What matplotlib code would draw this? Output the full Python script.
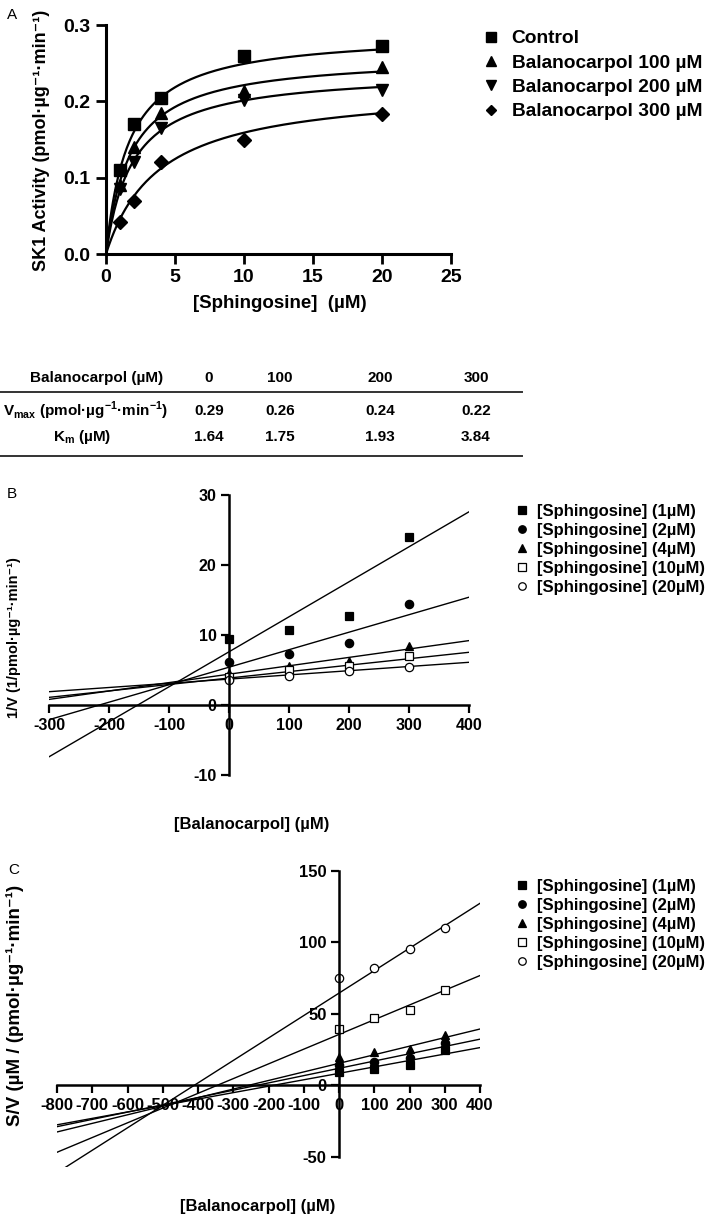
import numpy as np
import matplotlib
matplotlib.use('Agg')
import matplotlib.pyplot as plt

W, H = 709, 1217
plt.rcParams['font.family'] = ['Liberation Sans', 'DejaVu Sans']
plt.rcParams['font.weight'] = 'bold'
plt.rcParams['axes.linewidth'] = 1.6
plt.rcParams['axes.unicode_minus'] = False

# ---- panel A: SK1 activity vs sphingosine
sph = [1, 2, 4, 10, 20]
act_control = [0.110, 0.170, 0.205, 0.260, 0.272]
act_100 = [0.090, 0.140, 0.185, 0.213, 0.245]
act_200 = [0.085, 0.120, 0.165, 0.202, 0.215]
act_300 = [0.042, 0.070, 0.120, 0.150, 0.183]
a_names = ['Control', 'Balanocarpol 100 \u00b5M', 'Balanocarpol 200 \u00b5M', 'Balanocarpol 300 \u00b5M']
a_markers = ['s', '^', 'v', 'D']
a_msize = [9, 8.5, 8.5, 7]

# ---- table (Michaelis-Menten fit)
bal_conc = ['0', '100', '200', '300']
vmax = [0.29, 0.26, 0.24, 0.22]
km = [1.64, 1.75, 1.93, 3.84]

# ---- panel B: Dixon plot
bal = [0, 100, 200, 300]
invv_1 = [9.4, 10.7, 12.7, 24.0]
invv_2 = [6.1, 7.3, 8.8, 14.5]
invv_4 = [4.6, 5.6, 6.3, 8.4]
invv_10 = [4.0, 5.0, 5.6, 7.0]
invv_20 = [3.6, 4.2, 4.9, 5.5]
b_int = [7.6, 5.4, 4.4, 3.85, 3.7]
b_slope = [0.050, 0.025, 0.012, 0.0092, 0.006]

# ---- panel C: Cornish-Bowden plot
sv_1 = [9.5, 11.5, 14.0, 25.0]
sv_2 = [14.5, 16.5, 19.5, 30.0]
sv_4 = [20.0, 23.5, 25.8, 35.0]
sv_10 = [39.5, 47.5, 52.5, 67.0]
sv_20 = [75.0, 82.0, 95.5, 110.0]
c_int = [8.5, 12.0, 15.5, 35.7, 64.6]
c_slope = [0.045, 0.051, 0.060, 0.103, 0.157]

s_names = ['[Sphingosine] (1\u00b5M)', '[Sphingosine] (2\u00b5M)', '[Sphingosine] (4\u00b5M)',
           '[Sphingosine] (10\u00b5M)', '[Sphingosine] (20\u00b5M)']
s_markers = ['s', 'o', '^', 's', 'o']
s_fill = ['k', 'k', 'k', 'w', 'w']

UNIT = 'pmol\u00b7\u00b5g\u207b\u00b9\u00b7min\u207b\u00b9'


def rect(l, t, r, b):
    return [l / W, 1 - b / H, (r - l) / W, (b - t) / H]


def fx(x):
    return x / W


def fy(y):
    return 1 - y / H


fig = plt.figure(figsize=(W / 100, H / 100), dpi=100)

# ================= A
ax = fig.add_axes(rect(106, 25, 451, 254))
xs = np.linspace(0, 20, 200)
for vals, v, k, m, ms, name in zip([act_control, act_100, act_200, act_300], vmax, km,
                                    a_markers, a_msize, a_names):
    ax.plot(xs, v * xs / (k + xs), color='k', lw=1.6)
    ax.plot(sph, vals, ls='none', marker=m, ms=ms, color='k', clip_on=False, label=name)
ax.set_xlim(0, 25)
ax.set_ylim(0, 0.3)
ax.set_xticks([0, 5, 10, 15, 20, 25])
ax.set_yticks([0.0, 0.1, 0.2, 0.3])
ax.set_yticklabels(['0.0', '0.1', '0.2', '0.3'])
ax.spines['top'].set_visible(False)
ax.spines['right'].set_visible(False)
ax.spines['left'].set_linewidth(2.2)
ax.spines['bottom'].set_linewidth(2.2)
ax.tick_params(length=7, width=2, labelsize=14, pad=4)
for t in ax.get_xticklabels() + ax.get_yticklabels():
    t.set_fontweight('bold')
fig.text(fx(280), fy(303), '[Sphingosine]  (\u00b5M)', ha='center', va='center', fontsize=13.5)
fig.text(fx(42), fy(140), 'SK1 Activity (' + UNIT + ')', rotation=90,
         ha='center', va='center', fontsize=13)
fig.text(fx(12), fy(15), 'A', ha='center', va='center', fontsize=11, fontweight='normal')
ax.legend(loc='upper left', bbox_to_anchor=(fx(481), fy(30)), bbox_transform=fig.transFigure,
          frameon=False, fontsize=13.8, handlelength=1.0, handletextpad=0.6,
          labelspacing=0.36, borderpad=0, borderaxespad=0, markerscale=0.8)

# ================= table
tab = fig.add_axes([0, 0, 1, 1], facecolor='none')
tab.set_xlim(0, W)
tab.set_ylim(H, 0)
tab.axis('off')
tfont = dict(fontsize=11, fontweight='bold', va='center')
col_x = [209, 280, 380, 476]
tab.text(97, 378, 'Balanocarpol (\u00b5M)', ha='center', **tfont)
tab.text(3, 411, 'V$_{\\mathregular{max}}$ (pmol\u00b7\u00b5g$^{\\mathregular{-1}}$\u00b7'
         'min$^{\\mathregular{-1}}$)', ha='left', **tfont)
tab.text(82, 437, 'K$_{\\mathregular{m}}$ (\u00b5M)', ha='center', **tfont)
for cx, c, v, k in zip(col_x, bal_conc, vmax, km):
    tab.text(cx, 378, c, ha='center', **tfont)
    tab.text(cx, 411, '%.2f' % v, ha='center', **tfont)
    tab.text(cx, 437, '%.2f' % k, ha='center', **tfont)
tab.plot([0, 522], [392, 392], color='#333333', lw=1.4)
tab.plot([0, 522], [456, 456], color='#333333', lw=1.4)

ytop_leg = {}


def kinetic_axes(axx, xvals, ylists, ints, slopes, xlim, tsize):
    xl = np.array(xlim)
    for vals, b0, b1, m, fc, name in zip(ylists, ints, slopes, s_markers, s_fill, s_names):
        axx.plot(xl, b0 + b1 * xl, color='k', lw=1.0)
        axx.plot(xvals, vals, ls='none', marker=m, ms=6, mfc=fc, mec='k', mew=0.9,
                 color='k', label=name, clip_on=False)
    axx.spines['top'].set_visible(False)
    axx.spines['right'].set_visible(False)
    axx.spines['left'].set_position(('data', 0))
    axx.spines['bottom'].set_position(('data', 0))
    axx.spines['left'].set_linewidth(1.8)
    axx.spines['bottom'].set_linewidth(1.8)
    axx.tick_params(length=6, width=1.6, labelsize=tsize, pad=3)
    axx.legend(loc='upper left', bbox_to_anchor=(fx(514), fy(ytop_leg[axx])),
               bbox_transform=fig.transFigure, frameon=False, fontsize=12,
               handlelength=1.0, handletextpad=0.4, labelspacing=0.24,
               borderpad=0, borderaxespad=0, markerscale=0.9)


# ================= B
bx = fig.add_axes(rect(49, 495, 469, 775))
ytop_leg[bx] = 504
kinetic_axes(bx, bal, [invv_1, invv_2, invv_4, invv_10, invv_20], b_int, b_slope, (-300, 400), 11.5)
bx.set_xlim(-300, 400)
bx.set_ylim(-10, 30)
bx.set_xticks(range(-300, 401, 100))
bx.set_yticks([-10, 0, 10, 20, 30])
for t in bx.get_xticklabels() + bx.get_yticklabels():
    t.set_fontweight('bold')
fig.text(fx(252), fy(825), '[Balanocarpol] (\u00b5M)', ha='center', va='center', fontsize=12)
fig.text(fx(14), fy(638), '1/V (1/' + UNIT + ')', rotation=90,
         ha='center', va='center', fontsize=10.5)
fig.text(fx(12), fy(494), 'B', ha='center', va='center', fontsize=11, fontweight='normal')

# ================= C
cx_ = fig.add_axes(rect(57, 871, 480, 1167))
ytop_leg[cx_] = 879
kinetic_axes(cx_, bal, [sv_1, sv_2, sv_4, sv_10, sv_20], c_int, c_slope, (-800, 400), 12)
cx_.set_xlim(-800, 400)
cx_.set_ylim(-57, 150)
cx_.spines['left'].set_bounds(-50, 150)
cx_.set_xticks(range(-800, 401, 100))
cx_.set_yticks([-50, 0, 50, 100, 150])
for t in cx_.get_xticklabels() + cx_.get_yticklabels():
    t.set_fontweight('bold')
fig.text(fx(258), fy(1206), '[Balanocarpol] (\u00b5M)', ha='center', va='center', fontsize=12)
fig.text(fx(15), fy(1005), 'S/V (\u00b5M / (' + UNIT + ')', rotation=90,
         ha='center', va='center', fontsize=13.5)
fig.text(fx(14), fy(870), 'C', ha='center', va='center', fontsize=11, fontweight='normal')

fig.savefig('out.png', dpi=100)
